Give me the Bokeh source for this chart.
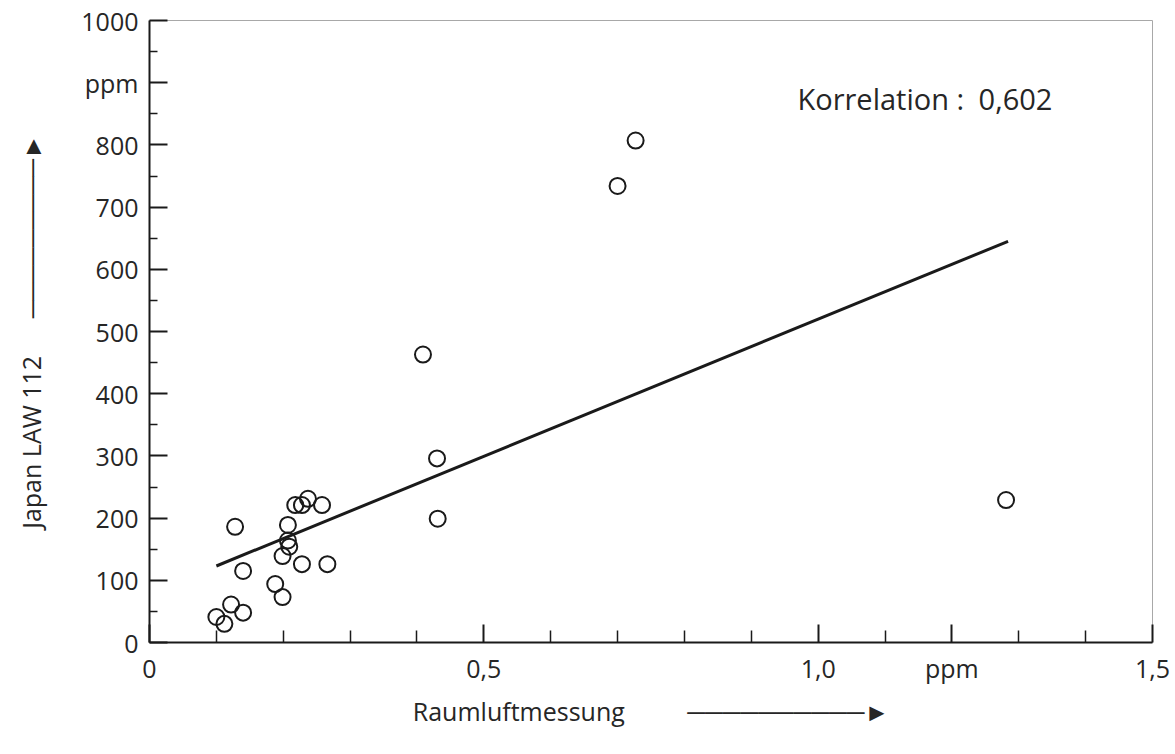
from bokeh.plotting import figure
from bokeh.models import FixedTicker, Label, Range1d, ColumnDataSource
from bokeh.embed import file_html
from bokeh.resources import INLINE

# Data
raumluft_x = [0.100, 0.112, 0.122, 0.140, 0.128, 0.140, 0.188, 0.199, 0.199, 0.207,
              0.207, 0.209, 0.228, 0.266, 0.218, 0.228, 0.237, 0.258, 0.409, 0.430,
              0.431, 0.700, 0.727, 1.281]
japan_y = [41, 30, 61, 48, 186, 115, 94, 73, 139, 189,
           164, 154, 126, 126, 221, 221, 231, 221, 463, 296,
           199, 734, 807, 229]
fit_x = [0.100, 1.284]
fit_y = [123, 645]

x_major = [0, 0.5, 1.0, 1.2, 1.5]
x_minor = [0.1, 0.2, 0.3, 0.4, 0.6, 0.7, 0.8, 0.9, 1.1, 1.3, 1.4]
x_labels = {0: "0", 0.5: "0,5", 1.0: "1,0", 1.2: "ppm", 1.5: "1,5"}
y_major = [0, 100, 200, 300, 400, 500, 600, 700, 800, 900, 1000]
y_minor = [50, 150, 250, 350, 450, 550, 650, 750, 850, 950]
y_labels = {900: "ppm"}

x_title = "Raumluftmessung"
y_title = "Japan LAW 112"
correlation_text = "Korrelation :\u20020,602"

FONT = "Open Sans"
INK = "#1a1a1a"
TXT = "#262626"

ARROW_X = "\u2003\u2003\u2002" + "\u2500" * 10 + "\u25BA"
ARROW_Y = "\u2003\u2002" + "\u2500" * 9 + "\u25BA"

p = figure(width=1172, height=740, x_range=Range1d(0, 1.5), y_range=Range1d(0, 1000),
           output_backend="svg", toolbar_location=None,
           min_border_left=149, min_border_right=20, min_border_top=20, min_border_bottom=98)
p.grid.visible = False
p.outline_line_color = "#a8a8a8"
p.outline_line_width = 1
p.background_fill_color = "white"
p.border_fill_color = "white"

src = ColumnDataSource(dict(x=raumluft_x, y=japan_y))
p.scatter("x", "y", source=src, marker="circle", size=16, fill_color=None,
          line_color=INK, line_width=2)
p.line(fit_x, fit_y, line_width=3, line_color=INK)

# x axis
xa = p.xaxis[0]
xa.ticker = FixedTicker(ticks=x_major, minor_ticks=x_minor)
xa.major_label_overrides = x_labels
xa.major_tick_in = 18
xa.major_tick_out = 0
xa.minor_tick_in = 12
xa.minor_tick_out = 0
xa.axis_line_width = 2
xa.axis_line_color = INK
xa.major_tick_line_width = 2
xa.major_tick_line_color = INK
xa.minor_tick_line_width = 1.5
xa.minor_tick_line_color = INK
xa.major_label_text_font = FONT
xa.major_label_text_font_size = "25px"
xa.major_label_text_color = TXT
xa.major_label_standoff = 8
xa.axis_label = x_title + ARROW_X
xa.axis_label_text_font = FONT
xa.axis_label_text_font_size = "25px"
xa.axis_label_text_font_style = "normal"
xa.axis_label_text_color = TXT
xa.axis_label_standoff = 6

# y axis
ya = p.yaxis[0]
ya.ticker = FixedTicker(ticks=y_major, minor_ticks=y_minor)
ya.major_label_overrides = y_labels
ya.major_tick_in = 18
ya.major_tick_out = 0
ya.minor_tick_in = 8
ya.minor_tick_out = 0
ya.axis_line_width = 2
ya.axis_line_color = INK
ya.major_tick_line_width = 2
ya.major_tick_line_color = INK
ya.minor_tick_line_width = 1.5
ya.minor_tick_line_color = INK
ya.major_label_text_font = FONT
ya.major_label_text_font_size = "25px"
ya.major_label_text_color = TXT
ya.major_label_standoff = 11
ya.axis_label = y_title + ARROW_Y
ya.axis_label_text_font = FONT
ya.axis_label_text_font_size = "25px"
ya.axis_label_text_font_style = "normal"
ya.axis_label_text_color = TXT
ya.axis_label_standoff = 30

# correlation text
p.add_layout(Label(x=0.969, y=875, text=correlation_text, text_font=FONT,
                   text_font_size="29px", text_color=TXT, text_align="left",
                   text_baseline="middle"))

open("out.html", "w").write(file_html(p, INLINE))
